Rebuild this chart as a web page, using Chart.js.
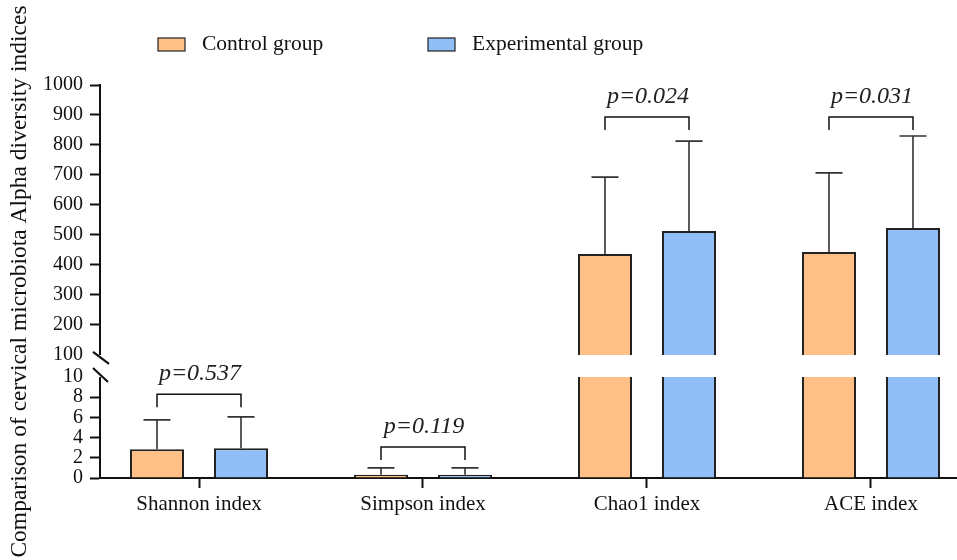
<!DOCTYPE html>
<html>
<head>
<meta charset="utf-8">
<script src="https://cdn.jsdelivr.net/npm/chart.js@4.4.1/dist/chart.umd.min.js"></script>
<style>
    html, body { margin: 0; padding: 0; background: #fff; }
    #wrap { width: 957px; height: 560px; position: relative; }
</style>
</head>
<body>
<div id="wrap"><canvas id="alphaChart"></canvas></div>
<script>
// Data
const categories = ['Shannon index', 'Simpson index', 'Chao1 index', 'ACE index'];
const controlMean = [2.85, 0.33, 437, 443];
const controlSD = [2.9, 0.67, 256, 264];
const experimentalMean = [2.95, 0.31, 513, 523];
const experimentalSD = [3.1, 0.69, 300, 307];
const pValues = ['0.537', '0.119', '0.024', '0.031'];
const bracketLevel = [8.3, 3.07, 893, 893];
const yTicks = [0, 2, 4, 6, 8, 10, 100, 200, 300, 400, 500, 600, 700, 800, 900, 1000];

const FONT = '"Liberation Serif", "Times New Roman", serif';

// broken y axis: 0-10 at the bottom, 100-1000 on top
const LOW_MAX = 10, HIGH_MIN = 100, HIGH_MAX = 1000;
const LOW_FRAC = 0.257, GAP_FRAC = 0.056;

class BrokenLinearScale extends Chart.LinearScale {
    segments() {
        const h = this.bottom - this.top;
        const lowH = h * LOW_FRAC;
        const gapH = h * GAP_FRAC;
        return { lowH, gapH, highH: h - lowH - gapH };
    }
    getPixelForValue(value) {
        const { lowH, gapH, highH } = this.segments();
        if (value <= LOW_MAX) return this.bottom - value / LOW_MAX * lowH;
        if (value < HIGH_MIN) return this.bottom - lowH - (value - LOW_MAX) / (HIGH_MIN - LOW_MAX) * gapH;
        return this.bottom - lowH - gapH - (value - HIGH_MIN) / (HIGH_MAX - HIGH_MIN) * highH;
    }
    getValueForPixel(pixel) {
        const { lowH, gapH, highH } = this.segments();
        const d = this.bottom - pixel;
        if (d <= lowH) return d / lowH * LOW_MAX;
        if (d <= lowH + gapH) return LOW_MAX + (d - lowH) / gapH * (HIGH_MIN - LOW_MAX);
        return HIGH_MIN + (d - lowH - gapH) / highH * (HIGH_MAX - HIGH_MIN);
    }
}
BrokenLinearScale.id = 'brokenLinear';
BrokenLinearScale.defaults = Chart.LinearScale.defaults;
Chart.register(BrokenLinearScale);

const sdByDataset = [controlSD, experimentalSD];

// white gap + axis break marks + error bars
const breakAndErrors = {
    id: 'breakAndErrors',
    afterDatasetsDraw(chart) {
        const { ctx, chartArea, scales: { y } } = chart;
        const yHigh = y.getPixelForValue(HIGH_MIN);
        const yLow = y.getPixelForValue(LOW_MAX);
        ctx.save();
        ctx.fillStyle = '#fff';
        ctx.fillRect(chartArea.left - 5, yHigh, chart.width, yLow - yHigh);

        ctx.strokeStyle = '#111';
        ctx.lineWidth = 2.2;
        const x0 = chartArea.left;
        ctx.beginPath();
        ctx.moveTo(x0 - 7, yHigh - 3);
        ctx.lineTo(x0 + 9, yHigh + 9);
        ctx.moveTo(x0 - 7, yLow - 9);
        ctx.lineTo(x0 + 8, yLow + 5);
        ctx.stroke();

        // error bars (upper whisker only)
        ctx.strokeStyle = '#333';
        ctx.lineWidth = 1.6;
        chart.data.datasets.forEach((ds, di) => {
            const meta = chart.getDatasetMeta(di);
            meta.data.forEach((bar, i) => {
                const v = ds.data[i].y;
                const top = y.getPixelForValue(v + sdByDataset[di][i]);
                ctx.beginPath();
                ctx.moveTo(bar.x, bar.y);
                ctx.lineTo(bar.x, top);
                ctx.moveTo(bar.x - 13.5, top);
                ctx.lineTo(bar.x + 13.5, top);
                ctx.stroke();
            });
        });
        ctx.restore();
    }
};

// significance brackets with p values
const brackets = {
    id: 'brackets',
    afterDraw(chart) {
        const { ctx, scales: { y } } = chart;
        const m0 = chart.getDatasetMeta(0).data;
        const m1 = chart.getDatasetMeta(1).data;
        ctx.save();
        ctx.strokeStyle = '#111';
        ctx.lineWidth = 1.5;
        ctx.fillStyle = '#222';
        ctx.font = 'italic 24px ' + FONT;
        ctx.textAlign = 'center';
        ctx.textBaseline = 'middle';
        categories.forEach((c, i) => {
            const xL = m0[i].x, xR = m1[i].x;
            const yB = y.getPixelForValue(bracketLevel[i]);
            ctx.beginPath();
            ctx.moveTo(xL, yB + 13);
            ctx.lineTo(xL, yB);
            ctx.lineTo(xR, yB);
            ctx.lineTo(xR, yB + 13);
            ctx.stroke();
            ctx.fillText('p=' + pValues[i], (xL + xR) / 2 + 1, yB - 20);
        });
        ctx.restore();
    }
};

// legend row above the plot
const legendRow = {
    id: 'legendRow',
    afterDraw(chart) {
        const { ctx } = chart;
        const starts = [158, 428];
        ctx.save();
        ctx.font = '21.5px ' + FONT;
        ctx.textBaseline = 'middle';
        chart.data.datasets.forEach((ds, i) => {
            const x = starts[i];
            ctx.fillStyle = ds.backgroundColor;
            ctx.fillRect(x, 38, 27, 13);
            ctx.strokeStyle = '#222';
            ctx.lineWidth = 1.2;
            ctx.strokeRect(x, 38, 27, 13);
            ctx.fillStyle = '#111';
            ctx.fillText(ds.label, x + 44, 44);
        });
        ctx.restore();
    }
};

const ctx = document.getElementById('alphaChart').getContext('2d');
const alphaChart = new Chart(ctx, {
    type: 'bar',
    data: {
        datasets: [
            {
                label: 'Control group',
                data: controlMean.map((v, i) => ({ x: i, y: v })),
                backgroundColor: '#FEC086',
                borderColor: '#222',
                borderWidth: 2
            },
            {
                label: 'Experimental group',
                data: experimentalMean.map((v, i) => ({ x: i, y: v })),
                backgroundColor: '#91BEF7',
                borderColor: '#222',
                borderWidth: 2
            }
        ]
    },
    options: {
        responsive: true,
        maintainAspectRatio: false,
        animation: false,
        categoryPercentage: 0.75,
        barPercentage: 0.643,
        layout: { padding: { top: 85, left: 0, right: 0, bottom: 0 } },
        plugins: {
            legend: { display: false },
            tooltip: { enabled: false }
        },
        scales: {
            x: {
                type: 'linear',
                offset: false,
                min: -0.442,
                max: 3.384,
                afterBuildTicks: scale => {
                    scale.ticks = categories.map((c, i) => ({ value: i }));
                },
                afterFit: scale => { scale.height = 82; },
                ticks: {
                    autoSkip: false,
                    maxRotation: 0,
                    padding: 4,
                    color: '#111',
                    font: { family: FONT, size: 21 },
                    callback: value => categories[value]
                },
                grid: {
                    offset: false,
                    drawOnChartArea: false,
                    drawTicks: true,
                    tickLength: 10,
                    tickWidth: 2,
                    tickColor: '#111'
                },
                border: { display: true, color: '#111', width: 2 }
            },
            y: {
                type: 'brokenLinear',
                min: 0,
                max: HIGH_MAX,
                afterBuildTicks: scale => {
                    scale.ticks = yTicks.map(v => ({ value: v }));
                },
                afterFit: scale => { scale.width = 100; },
                ticks: {
                    autoSkip: false,
                    padding: 7,
                    color: '#111',
                    font: { family: FONT, size: 20 },
                    callback: value => String(value)
                },
                grid: {
                    drawOnChartArea: false,
                    drawTicks: true,
                    tickLength: 10,
                    tickWidth: 2,
                    tickColor: c => (c.tick && (c.tick.value === LOW_MAX || c.tick.value === HIGH_MIN)) ? 'rgba(0,0,0,0)' : '#111'
                },
                border: { display: true, color: '#111', width: 2 },
                title: {
                    display: true,
                    text: 'Comparison of cervical microbiota Alpha diversity indices',
                    color: '#111',
                    font: { family: FONT, size: 23.5 },
                    padding: { top: 6, bottom: 0 }
                }
            }
        }
    },
    plugins: [breakAndErrors, brackets, legendRow]
});
</script>
</body>
</html>
